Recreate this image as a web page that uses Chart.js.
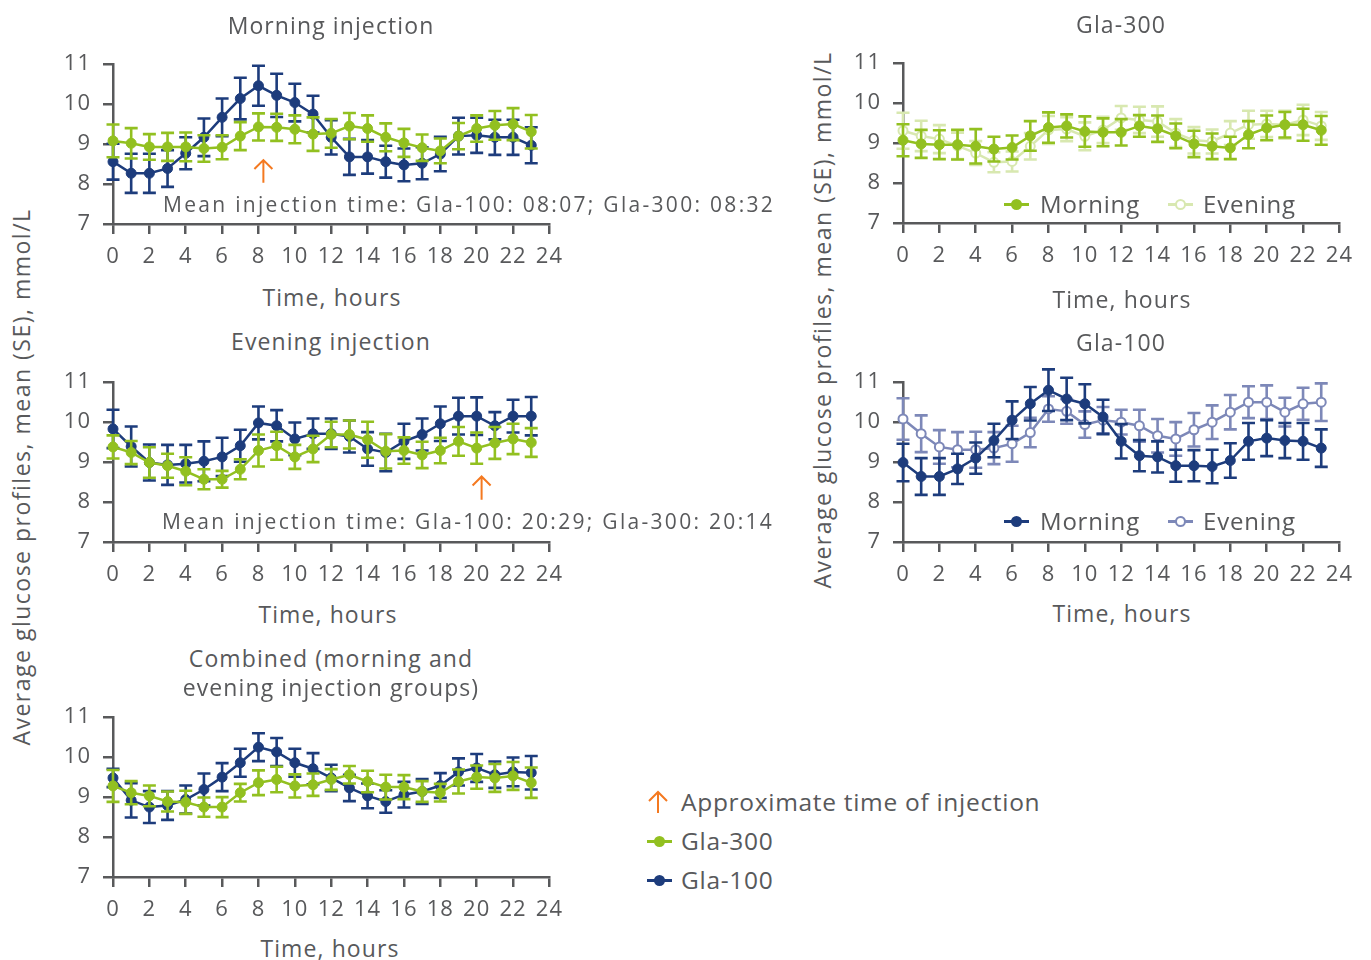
<!DOCTYPE html>
<html>
<head>
<meta charset="utf-8">
<script src="https://cdn.jsdelivr.net/npm/chart.js@4.4.1/dist/chart.umd.min.js"></script>
<style>
  body { margin: 0; background: #fff; font-family: 'Open Sans', sans-serif; color: #58595b; }
  #page { position: relative; width: 1371px; height: 960px; overflow: hidden; }
  .cv { position: absolute; }
  .t { position: absolute; white-space: nowrap; line-height: 1; }
  .c { transform: translate(-50%, -50%); }
  .l { transform: translateY(-50%); }
  .ttl { font-size: 23px; letter-spacing: 1.1px; }
  .ax { font-size: 23px; letter-spacing: 1.1px; }
  .note { font-size: 21px; letter-spacing: 2.3px; }
  .leg { font-size: 24px; letter-spacing: 0.8px; }
  .bleg { font-size: 24.5px; letter-spacing: 0.7px; }
  .yt { font-size: 23px; letter-spacing: 1.5px; transform: translate(-50%, -50%) rotate(-90deg); }
  .lg { position: absolute; width: 25px; height: 12px; transform: translateY(-50%); }
  .lg i { position: absolute; left: 0; right: 0; top: 5px; height: 2.5px; }
  .lg b { position: absolute; left: 7px; top: 0.5px; width: 11px; height: 11px; border-radius: 50%; box-sizing: border-box; }
</style>
</head>
<body>
<div id="page">
  <canvas id="p1" class="cv"></canvas>
  <canvas id="p2" class="cv"></canvas>
  <canvas id="p3" class="cv"></canvas>
  <canvas id="p4" class="cv"></canvas>
  <canvas id="p5" class="cv"></canvas>

  <div class="t c ttl" style="left:331px;top:25px">Morning injection</div>
  <div class="t c ttl" style="left:1121px;top:24px">Gla-300</div>
  <div class="t c ttl" style="left:331px;top:341px">Evening injection</div>
  <div class="t c ttl" style="left:1121px;top:342px">Gla-100</div>
  <div class="t c ttl" style="left:331px;top:658px">Combined (morning and</div>
  <div class="t c ttl" style="left:331px;top:687px">evening injection groups)</div>

  <div class="t c ax" style="left:332px;top:297px">Time, hours</div>
  <div class="t c ax" style="left:1122px;top:299px">Time, hours</div>
  <div class="t c ax" style="left:328px;top:614px">Time, hours</div>
  <div class="t c ax" style="left:1122px;top:613px">Time, hours</div>
  <div class="t c ax" style="left:330px;top:948px">Time, hours</div>

  <div class="t yt" style="left:21px;top:477px">Average glucose profiles, mean (SE), mmol/L</div>
  <div class="t yt" style="left:822px;top:320px">Average glucose profiles, mean (SE), mmol/L</div>

  <div class="t l note" style="left:163px;top:204px">Mean injection time: Gla-100: 08:07; Gla-300: 08:32</div>
  <div class="t l note" style="left:162px;top:521px">Mean injection time: Gla-100: 20:29; Gla-300: 20:14</div>

  <!-- panel legends -->
  <span class="lg" style="left:1004px;top:204px"><i style="background:#92c020"></i><b style="background:#92c020"></b></span>
  <div class="t l leg" style="left:1040px;top:204px">Morning</div>
  <span class="lg" style="left:1168px;top:204px"><i style="background:#d8e8b0"></i><b style="background:#fff;border:2px solid #d8e8b0"></b></span>
  <div class="t l leg" style="left:1203px;top:204px">Evening</div>

  <span class="lg" style="left:1004px;top:521px"><i style="background:#1d3c7c"></i><b style="background:#1d3c7c"></b></span>
  <div class="t l leg" style="left:1040px;top:521px">Morning</div>
  <span class="lg" style="left:1168px;top:521px"><i style="background:#7d88b8"></i><b style="background:#fff;border:2px solid #7d88b8"></b></span>
  <div class="t l leg" style="left:1203px;top:521px">Evening</div>

  <!-- bottom legend -->
  <svg style="position:absolute;left:647px;top:790px" width="22" height="24">
    <path d="M11 23 V2 M2 11 L11 2 L20 11" fill="none" stroke="#f47920" stroke-width="2"/>
  </svg>
  <div class="t l bleg" style="left:681px;top:802px">Approximate time of injection</div>
  <span class="lg" style="left:647px;top:841px"><i style="background:#92c020"></i><b style="background:#92c020"></b></span>
  <div class="t l bleg" style="left:681px;top:841px">Gla-300</div>
  <span class="lg" style="left:647px;top:880px"><i style="background:#1d3c7c"></i><b style="background:#1d3c7c"></b></span>
  <div class="t l bleg" style="left:681px;top:880px">Gla-100</div>
</div>

<script>
// hours of the day (x values)
const hours = [0, 1, 2, 3, 4, 5, 6, 7, 8, 9, 10, 11, 12, 13, 14, 15, 16, 17, 18, 19, 20, 21, 22, 23];
const xTicks = [0, 2, 4, 6, 8, 10, 12, 14, 16, 18, 20, 22, 24];
const yTicks = [7, 8, 9, 10, 11];

// Morning injection group
const mornGla300 = [9.08, 9.02, 8.93, 8.93, 8.93, 8.89, 8.92, 9.2, 9.43, 9.42, 9.37, 9.25, 9.27, 9.45, 9.39, 9.17, 9.03, 8.91, 8.83, 9.2, 9.39, 9.47, 9.5, 9.31];
const mornGla300SE = [0.41, 0.38, 0.32, 0.35, 0.36, 0.33, 0.3, 0.35, 0.34, 0.34, 0.35, 0.42, 0.36, 0.33, 0.33, 0.35, 0.35, 0.33, 0.31, 0.33, 0.33, 0.36, 0.4, 0.42];
const mornGla100 = [8.56, 8.27, 8.27, 8.39, 8.77, 9.17, 9.67, 10.14, 10.46, 10.22, 10.04, 9.75, 9.17, 8.68, 8.68, 8.56, 8.48, 8.52, 8.75, 9.2, 9.22, 9.17, 9.17, 8.97];
const mornGla100SE = [0.45, 0.49, 0.49, 0.46, 0.4, 0.47, 0.47, 0.52, 0.5, 0.54, 0.47, 0.46, 0.43, 0.45, 0.42, 0.4, 0.41, 0.4, 0.43, 0.46, 0.44, 0.44, 0.44, 0.45];

// Evening injection group
const eveGla300 = [9.38, 9.24, 8.99, 8.91, 8.77, 8.57, 8.57, 8.82, 9.29, 9.41, 9.13, 9.33, 9.69, 9.69, 9.56, 9.27, 9.29, 9.18, 9.29, 9.52, 9.35, 9.48, 9.58, 9.49];
const eveGla300SE = [0.29, 0.29, 0.38, 0.3, 0.35, 0.25, 0.21, 0.25, 0.4, 0.35, 0.3, 0.33, 0.32, 0.35, 0.45, 0.43, 0.33, 0.33, 0.32, 0.36, 0.39, 0.4, 0.38, 0.36];
const eveGla100 = [9.83, 9.39, 8.99, 8.93, 8.96, 9.02, 9.13, 9.41, 9.98, 9.91, 9.58, 9.71, 9.71, 9.64, 9.33, 9.24, 9.52, 9.69, 9.96, 10.15, 10.15, 9.91, 10.15, 10.15];
const eveGla100SE = [0.48, 0.5, 0.45, 0.5, 0.47, 0.5, 0.48, 0.4, 0.41, 0.39, 0.41, 0.38, 0.38, 0.4, 0.42, 0.47, 0.44, 0.4, 0.43, 0.46, 0.47, 0.34, 0.41, 0.48];

// Gla-300 by injection time
const g300Morning = [9.07, 8.98, 8.96, 8.96, 8.92, 8.85, 8.89, 9.18, 9.39, 9.43, 9.29, 9.27, 9.27, 9.43, 9.36, 9.18, 8.98, 8.92, 8.88, 9.21, 9.38, 9.46, 9.46, 9.32];
const g300MorningSE = [0.4, 0.35, 0.36, 0.37, 0.43, 0.31, 0.3, 0.37, 0.38, 0.29, 0.38, 0.35, 0.33, 0.27, 0.33, 0.31, 0.33, 0.32, 0.28, 0.34, 0.31, 0.32, 0.4, 0.36];
const g300Evening = [9.31, 9.18, 9.1, 8.93, 8.75, 8.52, 8.54, 8.92, 9.33, 9.35, 9.17, 9.33, 9.63, 9.58, 9.54, 9.25, 9.07, 9.04, 9.25, 9.46, 9.48, 9.46, 9.58, 9.43];
const g300EveningSE = [0.45, 0.38, 0.35, 0.33, 0.3, 0.25, 0.25, 0.33, 0.35, 0.3, 0.35, 0.33, 0.3, 0.33, 0.38, 0.35, 0.33, 0.3, 0.3, 0.35, 0.33, 0.35, 0.38, 0.35];

// Gla-100 by injection time
const g100Morning = [8.99, 8.64, 8.64, 8.83, 9.1, 9.54, 10.05, 10.46, 10.8, 10.58, 10.46, 10.13, 9.52, 9.16, 9.13, 8.91, 8.91, 8.89, 9.04, 9.52, 9.6, 9.54, 9.52, 9.35];
const g100MorningSE = [0.47, 0.46, 0.46, 0.38, 0.39, 0.42, 0.47, 0.42, 0.52, 0.53, 0.49, 0.43, 0.43, 0.39, 0.39, 0.4, 0.39, 0.42, 0.43, 0.46, 0.45, 0.44, 0.46, 0.47];
const g100Evening = [10.08, 9.71, 9.38, 9.31, 9.31, 9.35, 9.46, 9.74, 10.33, 10.27, 9.94, 10.05, 10.0, 9.91, 9.66, 9.58, 9.81, 10.0, 10.25, 10.5, 10.5, 10.25, 10.46, 10.5];
const g100EveningSE = [0.52, 0.46, 0.42, 0.44, 0.45, 0.4, 0.45, 0.37, 0.32, 0.31, 0.33, 0.33, 0.31, 0.4, 0.42, 0.42, 0.42, 0.42, 0.43, 0.4, 0.42, 0.36, 0.4, 0.47];

// Combined groups
const combGla300 = [9.28, 9.11, 9.03, 8.89, 8.87, 8.75, 8.75, 9.11, 9.36, 9.44, 9.28, 9.31, 9.44, 9.56, 9.39, 9.25, 9.25, 9.14, 9.11, 9.39, 9.5, 9.48, 9.53, 9.36];
const combGla300SE = [0.4, 0.29, 0.26, 0.25, 0.29, 0.24, 0.25, 0.22, 0.31, 0.32, 0.29, 0.28, 0.26, 0.22, 0.27, 0.31, 0.3, 0.26, 0.22, 0.3, 0.29, 0.35, 0.35, 0.38];
const combGla100 = [9.48, 8.92, 8.75, 8.79, 8.94, 9.19, 9.5, 9.86, 10.25, 10.13, 9.86, 9.71, 9.48, 9.23, 9.03, 8.89, 9.06, 9.14, 9.29, 9.63, 9.73, 9.56, 9.63, 9.61];
const combGla100SE = [0.23, 0.43, 0.4, 0.36, 0.35, 0.4, 0.35, 0.35, 0.35, 0.35, 0.35, 0.39, 0.33, 0.33, 0.31, 0.28, 0.32, 0.31, 0.31, 0.34, 0.35, 0.33, 0.36, 0.42];

// approximate injection time arrows: [hour, arrow tail, arrow tip]
const morningArrow = [8.27, 8.03, 8.6];
const eveningArrow = [20.27, 8.06, 8.64];

const GREEN = '#92c020';
const NAVY = '#1d3c7c';
const PALE_GREEN = '#d8e8b0';
const PALE_NAVY = '#7d88b8';
const GREY = '#58595b';
const ORANGE = '#f47920';

Chart.defaults.font.family = "'Open Sans', sans-serif";
Chart.defaults.font.size = 22;
Chart.defaults.color = GREY;

// wider tick lettering, closer to the original typeface
const setSpacing = chart => { chart.ctx.letterSpacing = '1px'; };
const spacing = {
  id: 'spacing',
  beforeInit: setSpacing,
  beforeUpdate: setSpacing,
  beforeLayout: setSpacing,
  beforeDraw: setSpacing
};

const errorBars = {
  id: 'errorBars',
  beforeDatasetDraw(chart, args) {
    const ds = chart.data.datasets[args.index];
    if (!ds.se) return;
    const y = chart.scales.y;
    const ctx = chart.ctx;
    ctx.save();
    ctx.strokeStyle = ds.borderColor;
    ctx.lineWidth = 2.6;
    args.meta.data.forEach((pt, i) => {
      const v = ds.data[i].y;
      const top = y.getPixelForValue(v + ds.se[i]);
      const bot = y.getPixelForValue(v - ds.se[i]);
      ctx.beginPath();
      ctx.moveTo(pt.x, top); ctx.lineTo(pt.x, bot);
      ctx.moveTo(pt.x - 6.5, top); ctx.lineTo(pt.x + 6.5, top);
      ctx.moveTo(pt.x - 6.5, bot); ctx.lineTo(pt.x + 6.5, bot);
      ctx.stroke();
    });
    ctx.restore();
  }
};

const injArrow = {
  id: 'injArrow',
  afterDatasetsDraw(chart, args, opts) {
    if (!opts.arrow) return;
    const [h, from, to] = opts.arrow;
    const x = chart.scales.x.getPixelForValue(h);
    const y0 = chart.scales.y.getPixelForValue(from);
    const y1 = chart.scales.y.getPixelForValue(to);
    const ctx = chart.ctx;
    ctx.save();
    ctx.strokeStyle = ORANGE;
    ctx.lineWidth = 2;
    ctx.beginPath();
    ctx.moveTo(x, y0); ctx.lineTo(x, y1);
    ctx.moveTo(x - 9, y1 + 9); ctx.lineTo(x, y1); ctx.lineTo(x + 9, y1 + 9);
    ctx.stroke();
    ctx.restore();
  }
};

function series(values, se, color, hollow) {
  return {
    data: hours.map((h, i) => ({ x: h, y: values[i] })),
    se: se,
    borderColor: color,
    backgroundColor: color,
    borderWidth: 2.5,
    pointRadius: hollow ? 4.5 : 5,
    pointBorderWidth: hollow ? 2 : 1,
    pointBackgroundColor: hollow ? '#fff' : color,
    pointBorderColor: color,
    tension: 0,
    clip: false
  };
}

const Y_W = 56, X_H = 46;

function makePanel(id, left, top, datasets, arrow) {
  const w = 436, h = 160;
  const cv = document.getElementById(id);
  cv.width = 520;
  cv.height = 240;
  const chart = new Chart(cv, {
    type: 'line',
    data: { datasets: datasets },
    options: {
      responsive: false,
      maintainAspectRatio: false,
      animation: false,
      events: [],
      layout: { autoPadding: false, padding: { top: 20, right: 20, left: 0, bottom: 0 } },
      plugins: { legend: { display: false }, tooltip: { enabled: false }, injArrow: { arrow: arrow } },
      scales: {
        x: {
          type: 'linear', min: 0, max: 24,
          afterFit: s => { s.height = X_H; },
          afterBuildTicks: s => { s.ticks = xTicks.map(v => ({ value: v })); },
          ticks: { padding: 10, maxRotation: 0, autoSkip: false },
          grid: { drawOnChartArea: false, tickLength: 10, color: GREY, lineWidth: 2.5 },
          border: { color: GREY, width: 2.5 }
        },
        y: {
          min: 7, max: 11,
          afterFit: s => { s.width = Y_W; },
          afterBuildTicks: s => { s.ticks = yTicks.map(v => ({ value: v })); },
          ticks: { padding: 12 },
          grid: { drawOnChartArea: false, tickLength: 10, color: GREY, lineWidth: 2.5 },
          border: { color: GREY, width: 2.5 }
        }
      }
    },
    plugins: [spacing, errorBars, injArrow]
  });
  // size the canvas so that the plotting area is exactly w x h, then place it
  for (let k = 0; k < 4; k++) {
    const ca = chart.chartArea;
    const cw = ca.right - ca.left, ch = ca.bottom - ca.top;
    if (Math.abs(cw - w) < 0.5 && Math.abs(ch - h) < 0.5) break;
    chart.resize(Math.round(chart.width + (w - cw)), Math.round(chart.height + (h - ch)));
  }
  const ca = chart.chartArea;
  cv.style.left = (left - ca.left) + 'px';
  cv.style.top = (top - ca.top) + 'px';
  return chart;
}

makePanel('p1', 113, 64, [
  series(mornGla300, mornGla300SE, GREEN),
  series(mornGla100, mornGla100SE, NAVY)
], morningArrow);

makePanel('p2', 903, 63, [
  series(g300Morning, g300MorningSE, GREEN),
  series(g300Evening, g300EveningSE, PALE_GREEN, true)
]);

makePanel('p3', 113, 382, [
  series(eveGla300, eveGla300SE, GREEN),
  series(eveGla100, eveGla100SE, NAVY)
], eveningArrow);

makePanel('p4', 903, 382, [
  series(g100Morning, g100MorningSE, NAVY),
  series(g100Evening, g100EveningSE, PALE_NAVY, true)
]);

makePanel('p5', 113, 717, [
  series(combGla300, combGla300SE, GREEN),
  series(combGla100, combGla100SE, NAVY)
]);
</script>
</body>
</html>
